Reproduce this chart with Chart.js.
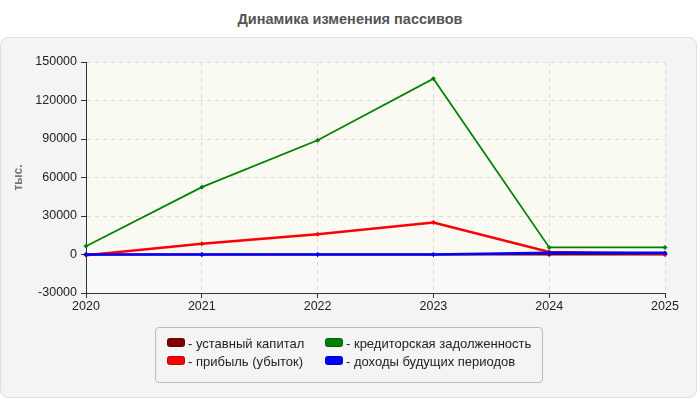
<!DOCTYPE html>
<html>
<head>
<meta charset="utf-8">
<script src="https://cdn.jsdelivr.net/npm/chart.js@4.4.1/dist/chart.umd.min.js"></script>
<style>
  body { margin: 0; background: #fff; font-family: "Liberation Sans", Arial, sans-serif; }
  #wrap { position: relative; width: 700px; height: 400px; overflow: hidden; }
  #title { position: absolute; left: 0; top: 11px; width: 700px; text-align: center;
           font-weight: bold; font-size: 14.5px; color: #555; }
  #panel { position: absolute; left: 0; top: 37px; width: 695px; height: 359px;
           background: #f4f4f4; border: 1px solid #e0e0e0; border-radius: 8px; }
  #myChart { position: absolute; left: 0; top: 0; }
  #legend { position: absolute; left: 155px; top: 327px; width: 386px; height: 54px;
            border: 1px solid #bbb; border-radius: 4px; font-size: 13px; color: #222; }
  .item { position: absolute; white-space: nowrap; line-height: 15px; }
  .sw { display: inline-block; width: 16px; height: 7px; border-radius: 3px;
        border: 1px solid rgba(0,0,0,0.25); vertical-align: 1px; margin-right: 3px; }
</style>
</head>
<body>
<div id="wrap">
  <div id="title">Динамика изменения пассивов</div>
  <div id="panel"></div>
  <canvas id="myChart" width="700" height="400"></canvas>
  <div id="legend"></div>
</div>
<script>
const years = ['2020', '2021', '2022', '2023', '2024', '2025'];
const seriesNames = ['уставный капитал', 'прибыль (убыток)', 'кредиторская задолженность', 'доходы будущих периодов'];
const seriesColors = ['#800000', '#ff0000', '#008000', '#0000ff'];
const capital = [10, 10, 10, 10, 10, 10];
const profit = [-500, 8300, 15800, 25000, 2000, 500];
const payables = [6500, 52500, 89000, 137000, 5500, 5500];
const deferred = [0, 0, 0, 0, 1200, 1200];
const yTicks = [-30000, 0, 30000, 60000, 90000, 120000, 150000];

const seriesData = [capital, profit, payables, deferred];
const widths = [2, 2.5, 1.7, 2.7];
const drawOrder = [3, 2, 1, 0];

// light hatch for plot background
function hatch(bg, line) {
    const p = document.createElement('canvas');
    p.width = 4; p.height = 4;
    const c = p.getContext('2d');
    c.fillStyle = bg;
    c.fillRect(0, 0, 4, 4);
    c.strokeStyle = line;
    c.lineWidth = 0.8;
    c.beginPath();
    c.moveTo(0, 4); c.lineTo(4, 0);
    c.moveTo(-2, 2); c.lineTo(2, -2);
    c.moveTo(2, 6); c.lineTo(6, 2);
    c.stroke();
    return c.createPattern(p, 'repeat');
}

const plotBg = {
    id: 'plotBg',
    beforeDraw(chart) {
        const ctx = chart.ctx;
        const a = chart.chartArea;
        const zero = chart.scales.y.getPixelForValue(0);
        ctx.save();
        ctx.fillStyle = hatch('#fcfcf5', '#f4f4ec');
        ctx.fillRect(a.left, a.top, a.right - a.left, zero - a.top);
        ctx.fillStyle = hatch('#fbfbfb', '#f0f0f0');
        ctx.fillRect(a.left, zero, a.right - a.left, a.bottom - zero);
        ctx.restore();
    }
};

const tickFont = { size: 12.5, family: 'Liberation Sans' };

const ctx = document.getElementById('myChart');
new Chart(ctx, {
    type: 'line',
    data: {
        labels: years,
        datasets: seriesData.map((d, i) => ({
            label: seriesNames[i],
            data: d,
            borderColor: seriesColors[i],
            backgroundColor: seriesColors[i],
            borderWidth: widths[i],
            pointStyle: 'rectRot',
            pointRadius: 2,
            pointHoverRadius: 2,
            pointBorderWidth: 1,
            tension: 0,
            fill: false,
            order: drawOrder[i]
        }))
    },
    options: {
        responsive: false,
        animation: false,
        layout: { padding: { left: 0, right: 35, top: 62, bottom: 77 } },
        plugins: { legend: { display: false }, tooltip: { enabled: false } },
        scales: {
            x: {
                offset: false,
                afterFit: s => { s.height = 30; },
                grid: { color: '#dcdcdc', tickColor: '#333', tickLength: 5, tickBorderDash: [] },
                border: { display: true, color: '#333', width: 1, dash: [4, 4] },
                ticks: { color: '#222', font: tickFont, padding: 1, maxRotation: 0 }
            },
            y: {
                min: -30000,
                max: 150000,
                afterFit: s => { s.width = 86; },
                afterBuildTicks: s => { s.ticks = yTicks.map(v => ({ value: v })); },
                grid: { color: '#dcdcdc', tickColor: '#333', tickLength: 5, tickBorderDash: [] },
                border: { display: true, color: '#333', width: 1, dash: [4, 4] },
                ticks: { color: '#222', font: tickFont, padding: 4, callback: v => String(v) },
                title: {
                    display: true,
                    text: 'тыс.',
                    color: '#777',
                    font: { size: 12, weight: 'bold', family: 'Liberation Sans' },
                    padding: { top: 11, bottom: 0 }
                }
            }
        }
    },
    plugins: [plotBg]
});

// legend, two columns
const legend = document.getElementById('legend');
const colX = [11, 169];
const rowY = [8, 26];
seriesNames.forEach((name, i) => {
    const el = document.createElement('div');
    el.className = 'item';
    el.style.left = colX[Math.floor(i / 2)] + 'px';
    el.style.top = rowY[i % 2] + 'px';
    el.innerHTML = '<span class="sw" style="background:' + seriesColors[i] + '"></span>- ' + name;
    legend.appendChild(el);
});
</script>
</body>
</html>
